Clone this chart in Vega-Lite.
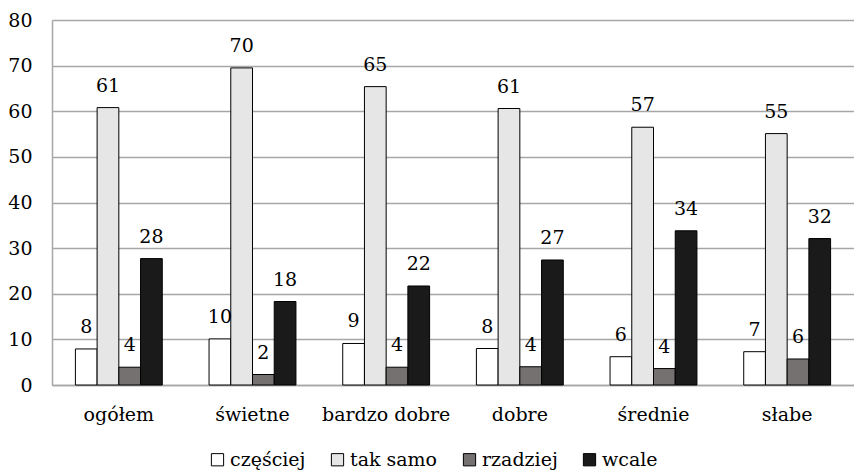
{
  "$schema": "https://vega.github.io/schema/vega-lite/v6.json",
  "width": 802,
  "height": 365,
  "autosize": "none",
  "padding": {"left": 52, "top": 20, "right": 0, "bottom": 87},
  "background": "white",
  "config": {
    "view": {"stroke": null}
  },
  "data": {
    "values": [
      {"kat": "ogółem", "seria": "częściej", "wartosc": 7.9, "etykieta": "8"},
      {"kat": "ogółem", "seria": "tak samo", "wartosc": 60.8, "etykieta": "61"},
      {"kat": "ogółem", "seria": "rzadziej", "wartosc": 3.9, "etykieta": "4"},
      {"kat": "ogółem", "seria": "wcale", "wartosc": 27.7, "etykieta": "28"},
      {"kat": "świetne", "seria": "częściej", "wartosc": 10.1, "etykieta": "10"},
      {"kat": "świetne", "seria": "tak samo", "wartosc": 69.5, "etykieta": "70"},
      {"kat": "świetne", "seria": "rzadziej", "wartosc": 2.3, "etykieta": "2"},
      {"kat": "świetne", "seria": "wcale", "wartosc": 18.3, "etykieta": "18"},
      {"kat": "bardzo dobre", "seria": "częściej", "wartosc": 9.1, "etykieta": "9"},
      {"kat": "bardzo dobre", "seria": "tak samo", "wartosc": 65.4, "etykieta": "65"},
      {"kat": "bardzo dobre", "seria": "rzadziej", "wartosc": 3.9, "etykieta": "4"},
      {"kat": "bardzo dobre", "seria": "wcale", "wartosc": 21.7, "etykieta": "22"},
      {"kat": "dobre", "seria": "częściej", "wartosc": 8.0, "etykieta": "8"},
      {"kat": "dobre", "seria": "tak samo", "wartosc": 60.6, "etykieta": "61"},
      {"kat": "dobre", "seria": "rzadziej", "wartosc": 4.0, "etykieta": "4"},
      {"kat": "dobre", "seria": "wcale", "wartosc": 27.4, "etykieta": "27"},
      {"kat": "średnie", "seria": "częściej", "wartosc": 6.2, "etykieta": "6"},
      {"kat": "średnie", "seria": "tak samo", "wartosc": 56.5, "etykieta": "57"},
      {"kat": "średnie", "seria": "rzadziej", "wartosc": 3.6, "etykieta": "4"},
      {"kat": "średnie", "seria": "wcale", "wartosc": 33.8, "etykieta": "34"},
      {"kat": "słabe", "seria": "częściej", "wartosc": 7.3, "etykieta": "7"},
      {"kat": "słabe", "seria": "tak samo", "wartosc": 55.1, "etykieta": "55"},
      {"kat": "słabe", "seria": "rzadziej", "wartosc": 5.7, "etykieta": "6"},
      {"kat": "słabe", "seria": "wcale", "wartosc": 32.1, "etykieta": "32"}
    ]
  },
  "encoding": {
    "x": {
      "field": "kat", "type": "nominal", "sort": null,
      "scale": {"paddingInner": 0.35, "paddingOuter": 0.175},
      "axis": {"title": null, "labelAngle": 0, "ticks": false, "domainColor": "#a6a6a6", "domainWidth": 1.5, "labelPadding": 20, "labelBaseline": "top", "labelFont": "DejaVu Serif", "labelFontSize": 19, "labelColor": "#000000"}
    },
    "xOffset": {
      "field": "seria", "type": "nominal",
      "sort": ["częściej", "tak samo", "rzadziej", "wcale"],
      "scale": {"paddingInner": 0, "paddingOuter": 0}
    },
    "y": {
      "field": "wartosc", "type": "quantitative",
      "scale": {"domain": [0, 80], "nice": false},
      "axis": {"title": null, "values": [0, 10, 20, 30, 40, 50, 60, 70, 80], "labelOverlap": false, "ticks": false, "domainColor": "#a6a6a6", "domainWidth": 1.5, "gridColor": "#a6a6a6", "gridWidth": 1.5, "labelPadding": 20, "labelFont": "DejaVu Serif", "labelFontSize": 19, "labelColor": "#000000"}
    }
  },
  "layer": [
    {
      "mark": {"type": "bar", "stroke": "#000000", "strokeWidth": 1},
      "encoding": {
        "color": {
          "field": "seria", "type": "nominal",
          "sort": ["częściej", "tak samo", "rzadziej", "wcale"],
          "scale": {"domain": ["częściej", "tak samo", "rzadziej", "wcale"], "range": ["#ffffff", "#e6e6e6", "#767171", "#1a1a1a"]},
          "legend": {
            "title": null, "orient": "none", "direction": "horizontal",
            "legendX": 156, "legendY": 430,
            "padding": 0,
            "symbolType": "square", "symbolSize": 150, "symbolStrokeColor": "#000000", "symbolStrokeWidth": 1,
            "labelFont": "DejaVu Serif", "labelFontSize": 19, "labelColor": "#000000",
            "labelOffset": 3, "columnPadding": 22
          }
        }
      }
    },
    {
      "mark": {"type": "text", "baseline": "alphabetic", "dy": -16, "fontSize": 19, "font": "DejaVu Serif", "color": "#000000"},
      "encoding": {"text": {"field": "etykieta"}}
    }
  ]
}
